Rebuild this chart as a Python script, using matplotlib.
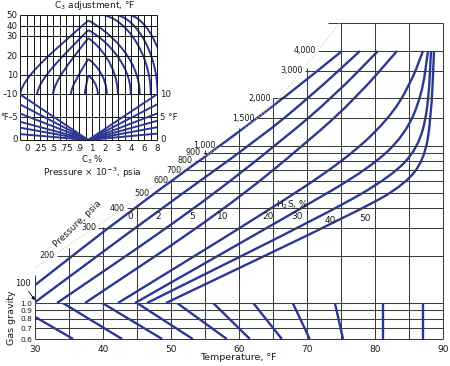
import numpy as np
import matplotlib
matplotlib.use('Agg')
import matplotlib.pyplot as plt
from matplotlib.path import Path
from matplotlib.patches import PathPatch
from matplotlib.ticker import NullLocator

plt.rcParams['font.family'] = ['Liberation Sans Narrow', 'DejaVu Sans']

BLUE = '#2b3795'
GRID = '#3c3c3c'
TXT = '#1a1a1a'

# ---------------- main chart data ----------------
TEMP_TICKS = [30, 40, 50, 60, 70, 80, 90]
GRID_TEMPS = [35, 40, 45, 50, 55, 60, 65, 70, 75, 80, 85, 90]
GRID_TEMP_TOP_P = [224, 304, 420, 605, 940, 1294, 2000, 3130, 6000, 6000, 6000, 6000]

PRESSURES = [200, 300, 400, 500, 600, 700, 800, 900, 1000, 1500, 2000, 3000, 4000]
PRESSURE_LABELS = ['200', '300', '400', '500', '600', '700', '800', '900',
                   '1,000', '1,500', '2,000', '3,000', '4,000']
PRESSURE_LINE_START_T = [33.2, 39.3, 43.5, 47.2, 49.9, 51.9, 53.5, 54.7,
                         56.9, 62.6, 65.0, 69.7, 71.6]
TOP_LINE_T = [73.1, 90]
TOP_LINE_P = 6000

DIAG_T = [30, 39.6, 48.4, 58.7, 65.3, 71.9, 74.9]
DIAG_P = [167, 318, 588, 1071, 1868, 4180, 6110]

H2S_LABELS = ['0', '2', '5', '10', '20', '30', '40', '50']
H2S_T = [
    [30.0, 43.97, 59.41, 67.50, 75.15],
    [29.85, 48.09, 63.09, 70.74, 77.79],
    [33.24, 53.09, 66.76, 74.12, 80.44],
    [37.35, 57.65, 70.44, 77.35, 83.24],
    [42.21, 64.26, 75.59, 81.91, 85.15, 87.06],
    [44.71, 68.53, 79.26, 84.41, 86.91, 87.79],
    [46.47, 73.38, 82.50, 86.32, 87.79, 88.24],
    [49.26, 78.53, 84.41, 87.21, 88.24, 88.68],
]
H2S_P = [
    [130, 385, 1170, 2163, 4000],
    [100, 385, 1119, 2100, 4000],
    [100, 385, 1119, 2100, 4000],
    [100, 385, 1087, 2040, 4000],
    [100, 385, 811, 1457, 2432, 4000],
    [100, 385, 722, 1170, 2100, 4000],
    [100, 379, 642, 967, 1687, 4000],
    [100, 402, 571, 811, 1457, 4000],
]
H2S_LABEL_T = [43.97, 48.09, 53.09, 57.65, 64.26, 68.53, 73.38, 78.53]
H2S_LABEL_P = [355, 355, 355, 355, 355, 355, 337, 347]

# ---------------- gas gravity data ----------------
GRAVITY_TICKS = [0.6, 0.7, 0.8, 0.9, 1.0]
GRAVITY_LABELS = ['0.6', '0.7', '0.8', '0.9', '1.0']
GRAV_T_AT_10 = [26.5, 34.1, 39.9, 45.0, 50.9, 56.2, 62.1, 67.9, 74.1, 81.2, 87.1]
GRAV_T_AT_06 = [35.6, 42.8, 48.7, 53.2, 58.2, 61.6, 66.3, 70.4, 75.3, 81.2, 87.1]

# ---------------- C3 inset data ----------------
C3_PCT_LABELS = ['0', '.25', '.5', '.75', '.9', '1', '2', '3', '4', '6', '8']
C3_TOP_TICKS = [50, 40, 30, 20, 10, -10]
C3_TOP_SCALE_VAL = [-10, 10, 20, 30, 40, 50, 70]
C3_TOP_SCALE_POS = [0, 19, 38, 58, 68, 79, 101]
C3_NODE_U = 4.7
C3_PEAKS = [10, 18.5, 29, 36, 45]
C3_LEFT_FOOT_U = [4.44, 3.36, 1.98, 0.75, -0.56]
C3_RIGHT_FOOT_U = [5.44, 6.13, 6.98, 7.98, 8.67]
C3_OPEN_TOP_U = [5.82, 6.9, 7.9]
C3_OPEN_FOOT_U = [9.52, 10.05, 10.7]
C3_FAN_LEFT = [10, 7.8, 5.8, 4.0, 2.7, 1.3]
C3_FAN_RIGHT = [10, 7.8, 5.8, 4.2, 2.8, 1.4]

W, H = 450, 366


def fig_rect(x0, y0, x1, y1):
    return [x0 / W, 1 - y1 / H, (x1 - x0) / W, (y1 - y0) / H]


def smooth_patch(ax, xs, ys, logy=True, **kw):
    xs = np.asarray(xs, float)
    yt = np.log10(np.asarray(ys, float)) if logy else np.asarray(ys, float)
    verts = [(xs[0], yt[0])]
    codes = [Path.MOVETO]
    n = len(xs)
    if n > 2:
        verts.append(((xs[0] + xs[1]) / 2, (yt[0] + yt[1]) / 2))
        codes.append(Path.LINETO)
        for i in range(1, n - 1):
            verts.append((xs[i], yt[i]))
            verts.append(((xs[i] + xs[i + 1]) / 2, (yt[i] + yt[i + 1]) / 2))
            codes += [Path.CURVE3, Path.CURVE3]
    verts.append((xs[-1], yt[-1]))
    codes.append(Path.LINETO)
    v = np.array(verts)
    if logy:
        v[:, 1] = 10 ** v[:, 1]
    p = PathPatch(Path(v, codes), fill=False, transform=ax.transData, **kw)
    ax.add_patch(p)


fig = plt.figure(figsize=(4.5, 3.66), dpi=100)

# ================= main chart =================
ax = fig.add_axes(fig_rect(35, 23.3, 443, 303))
ax.set_xlim(30, 90)
ax.set_yscale('log')
ax.set_ylim(100, 6000)
ax.axis('off')

gkw = dict(color=GRID, lw=0.75, solid_capstyle='butt')
for T, ptop in zip(GRID_TEMPS, GRID_TEMP_TOP_P):
    ax.plot([T, T], [100, ptop], clip_on=False, **gkw)
ax.plot([30, 30], [100, 150], clip_on=False, **gkw)
ax.plot(TOP_LINE_T, [TOP_LINE_P, TOP_LINE_P], clip_on=False, **gkw)
for P, lab, t0 in zip(PRESSURES, PRESSURE_LABELS, PRESSURE_LINE_START_T):
    ax.plot([t0, 90], [P, P], **gkw)
    ax.text(t0 - 0.3, P, lab, ha='right', va='center', fontsize=5.8, color=TXT)

ax.plot(DIAG_T, DIAG_P, color='#c8c8c8', lw=0.6, ls=(0, (2, 2)))

for ts, ps in zip(H2S_T, H2S_P):
    smooth_patch(ax, ts, ps, logy=True, edgecolor=BLUE, lw=1.7,
                 capstyle='butt', joinstyle='round')

for lab, t, p in zip(H2S_LABELS, H2S_LABEL_T, H2S_LABEL_P):
    ax.text(t, p, lab, ha='center', va='center', fontsize=6.5, color=TXT)

ax.text(67.8, 420, 'H$_2$S, %', ha='center', va='center', fontsize=6.5, color=TXT)
ax.text(36.3, 318, 'Pressure, psia', ha='center', va='center', fontsize=6.5,
        rotation=44, color=TXT)
ax.annotate('100', xy=(30.0, 104), xytext=(28.2, 134), fontsize=6, color=TXT,
            ha='center', va='center', annotation_clip=False,
            arrowprops=dict(arrowstyle='-|>', lw=0.6, color='k',
                            mutation_scale=5, shrinkA=1, shrinkB=0))

# ================= gas gravity strip =================
axg = fig.add_axes(fig_rect(35, 303, 443, 339))
axg.set_xlim(30, 90)
axg.set_yscale('log')
axg.set_ylim(0.6, 1.0)
for s in axg.spines.values():
    s.set_visible(False)
for g in GRAVITY_TICKS:
    axg.plot([30, 90], [g, g], clip_on=False, **gkw)
for T in [30] + GRID_TEMPS:
    axg.plot([T, T], [0.6, 1.0], clip_on=False, **gkw)
for t1, t6 in zip(GRAV_T_AT_10, GRAV_T_AT_06):
    axg.plot([t1, t6], [1.0, 0.6], color=BLUE, lw=1.7, solid_capstyle='butt')
axg.yaxis.set_minor_locator(NullLocator())
axg.set_yticks(GRAVITY_TICKS)
axg.set_yticklabels(GRAVITY_LABELS)
axg.set_xticks(TEMP_TICKS)
axg.set_xticklabels([str(t) for t in TEMP_TICKS])
axg.tick_params(length=0, colors=TXT)
axg.tick_params(axis='x', pad=4, labelsize=6.5)
axg.tick_params(axis='y', pad=2, labelsize=5.4)
fig.text(238 / W, 1 - 358 / H, 'Temperature, °F', ha='center', va='center',
         fontsize=6.8, color=TXT)
fig.text(12 / W, 1 - 318 / H, 'Gas gravity', ha='center', va='center',
         fontsize=6.8, rotation=90, color=TXT)

# ================= C3 inset =================
BOT_UNIT = 4.55


def top_pos(v):
    return 10 * BOT_UNIT + np.interp(v, C3_TOP_SCALE_VAL, C3_TOP_SCALE_POS)


def bot_pos(v):
    return v * BOT_UNIT


ai = fig.add_axes(fig_rect(20, 15, 157, 140))
ai.set_xlim(-0.56, 10)
ai.set_ylim(0, top_pos(50))
ai.axis('off')
ikw = dict(color='#111111', lw=0.7, solid_capstyle='butt')
for k in range(21):
    ai.plot([k * 0.5, k * 0.5], [0, top_pos(50)], clip_on=False, **ikw)
ai.plot([-0.56, -0.56], [0, top_pos(50)], clip_on=False, **ikw)
for v in C3_TOP_TICKS:
    ai.plot([-0.56, 10], [top_pos(v), top_pos(v)], clip_on=False, **ikw)
for b in [0, 5]:
    ai.plot([-0.56, 10], [bot_pos(b), bot_pos(b)], clip_on=False, **ikw)

lkw = dict(color=BLUE, lw=1.4, solid_capstyle='butt')
for b in C3_FAN_LEFT:
    ai.plot([-0.56, C3_NODE_U], [bot_pos(b), 0], **lkw)
for b in C3_FAN_RIGHT:
    ai.plot([10, C3_NODE_U], [bot_pos(b), 0], **lkw)


def add_bezier(pts):
    path = Path(pts, [Path.MOVETO, Path.CURVE4, Path.CURVE4, Path.CURVE4])
    ai.add_patch(PathPatch(path, fill=False, edgecolor=BLUE, lw=1.4,
                           capstyle='butt'))


foot = top_pos(-10)
for pk, ul, ur in zip(C3_PEAKS, C3_LEFT_FOOT_U, C3_RIGHT_FOOT_U):
    ppk = top_pos(pk)
    h = ppk - foot
    dxl = C3_NODE_U - ul
    add_bezier([(ul, foot), (ul + 0.05 * dxl, foot + 0.25 * h),
                (ul + 0.45 * dxl, foot + 0.55 * h), (C3_NODE_U, ppk)])
    dxr = ur - C3_NODE_U
    add_bezier([(C3_NODE_U, ppk), (C3_NODE_U + 0.35 * dxr, ppk - 0.12 * h),
                (ur, foot + 0.5 * h), (ur, foot)])
for ut, uf in zip(C3_OPEN_TOP_U, C3_OPEN_FOOT_U):
    ptop = top_pos(50)
    h = ptop - foot
    add_bezier([(ut, ptop), (ut + 0.5 * (uf - ut), ptop - 0.05 * h),
                (uf, foot + 0.5 * h), (uf, foot)])

ifs = 6.2
for v in C3_TOP_TICKS:
    ai.text(-0.75, top_pos(v), str(v).replace('-', '–'), ha='right', va='center',
            fontsize=ifs, color=TXT, clip_on=False)
ai.text(-0.7, bot_pos(5), '°F–5', ha='right', va='center', fontsize=5.8, color=TXT)
ai.text(-0.75, bot_pos(0), '0', ha='right', va='center', fontsize=ifs, color=TXT)
ai.text(10.25, bot_pos(10), '10', ha='left', va='center', fontsize=ifs, color=TXT)
ai.text(10.25, bot_pos(5), '5 °F', ha='left', va='center', fontsize=ifs, color=TXT)
ai.text(10.25, bot_pos(0), '0', ha='left', va='center', fontsize=ifs, color=TXT)
for i, lab in enumerate(C3_PCT_LABELS):
    ai.text(i, -8, lab, ha='center', va='center', fontsize=ifs, color=TXT)
ai.text(5, -19.5, 'C$_3$ %', ha='center', va='center', fontsize=ifs, color=TXT)
ai.text(5, -33, 'Pressure × 10$^{-3}$, psia', ha='center', va='center',
        fontsize=6.5, color=TXT)
ai.text(5.2, top_pos(50) + 9, 'C$_3$ adjustment, °F', ha='center', va='center',
        fontsize=6.5, color=TXT)

fig.savefig('out.png', dpi=100)
